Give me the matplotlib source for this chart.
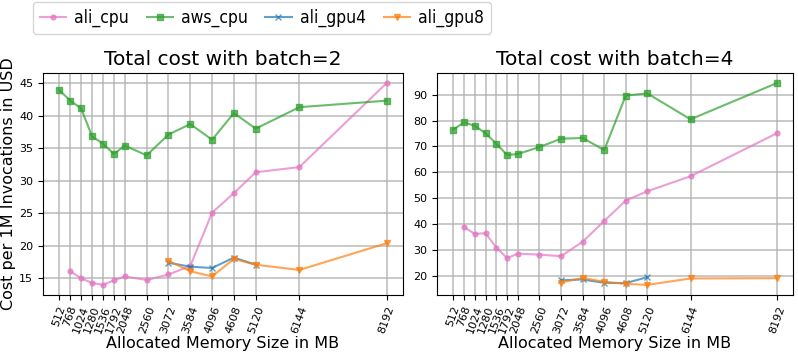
import matplotlib
matplotlib.use("Agg")
import matplotlib.pyplot as plt
from matplotlib.font_manager import FontProperties

# メモリサイズ (MB)
mem = [512, 768, 1024, 1280, 1536, 1792, 2048, 2560, 3072, 3584, 4096, 4608, 5120, 6144, 8192]

# batch=2
b2_ali_cpu_x = mem[1:]
b2_ali_cpu = [16.1, 15.0, 14.3, 14.0, 14.7, 15.3, 14.75, 15.6, 16.9, 25.1, 28.1, 31.3, 32.1, 45.0]
b2_aws_cpu = [43.9, 42.3, 41.1, 36.8, 35.7, 34.1, 35.4, 33.9, 37.1, 38.7, 36.3, 40.4, 38.0, 41.3, 42.3]
b2_gpu4_x = [3072, 3584, 4096, 4608, 5120]
b2_ali_gpu4 = [17.4, 16.8, 16.6, 18.2, 17.1]
b2_gpu8_x = [3072, 3584, 4096, 4608, 5120, 6144, 8192]
b2_ali_gpu8 = [17.7, 16.1, 15.3, 18.0, 17.1, 16.3, 20.4]

# batch=4
b4_ali_cpu_x = mem[1:]
b4_ali_cpu = [38.9, 36.2, 36.5, 30.9, 26.9, 28.6, 28.2, 27.6, 33.2, 41.2, 49.1, 52.7, 58.5, 75.1]
b4_aws_cpu = [76.5, 79.3, 78.0, 75.1, 71.1, 66.7, 67.1, 69.8, 73.0, 73.3, 68.6, 89.7, 90.5, 80.5, 94.5]
b4_gpu4_x = [3072, 3584, 4096, 4608, 5120]
b4_ali_gpu4 = [18.3, 18.6, 17.3, 17.2, 19.5]
b4_gpu8_x = [3072, 3584, 4096, 4608, 5120, 6144, 8192]
b4_ali_gpu8 = [17.4, 19.2, 17.7, 16.9, 16.5, 19.0, 19.1]

fig = plt.figure(figsize=(7.98, 3.55), dpi=100)
ax1 = fig.add_axes([43 / 798, 1 - 295 / 355, 360 / 798, 222 / 355])
ax2 = fig.add_axes([437 / 798, 1 - 295 / 355, 356 / 798, 222 / 355])

style = dict(alpha=0.7, linewidth=1.5, markersize=4)


def draw(ax, cpu_x, cpu, aws, g4x, g4, g8x, g8, title):
    ax.plot(cpu_x, cpu, marker='o', color='tab:pink', label='ali_cpu', markersize=3.5,
            alpha=0.7, linewidth=1.5)
    ax.plot(mem, aws, marker='s', color='tab:green', label='aws_cpu', **style)
    ax.plot(g4x, g4, marker='x', color='tab:blue', label='ali_gpu4', **style)
    ax.plot(g8x, g8, marker='v', color='tab:orange', label='ali_gpu8', **style)
    ax.set_xticks(mem)
    ax.set_xticklabels([str(m) for m in mem], rotation=70, fontsize=8)
    ax.tick_params(axis='y', labelsize=8)
    ax.grid(True, linewidth=1.2, alpha=0.8)
    ax.set_title(title, fontsize=14.5)
    ax.set_xlabel("Allocated Memory Size in MB", fontsize=11.5, labelpad=1)


draw(ax1, b2_ali_cpu_x, b2_ali_cpu, b2_aws_cpu, b2_gpu4_x, b2_ali_gpu4,
     b2_gpu8_x, b2_ali_gpu8, "Total cost with batch=2")
draw(ax2, b4_ali_cpu_x, b4_ali_cpu, b4_aws_cpu, b4_gpu4_x, b4_ali_gpu4,
     b4_gpu8_x, b4_ali_gpu8, "Total cost with batch=4")
ax1.set_ylabel("Cost per 1M Invocations in USD", fontsize=11.5, labelpad=2)

# 凡例は細めのフォントで
leg_font = FontProperties(family='DejaVu Sans', stretch='condensed', size=12.5)
handles, labels = ax1.get_legend_handles_labels()
fig.legend(handles, labels, loc='upper left', bbox_to_anchor=(31 / 798, 1.0),
           ncol=4, prop=leg_font, handlelength=1.5, handletextpad=0.5,
           columnspacing=1.0, borderaxespad=0.1)

plt.savefig("out.png", dpi=100)
plt.close()
